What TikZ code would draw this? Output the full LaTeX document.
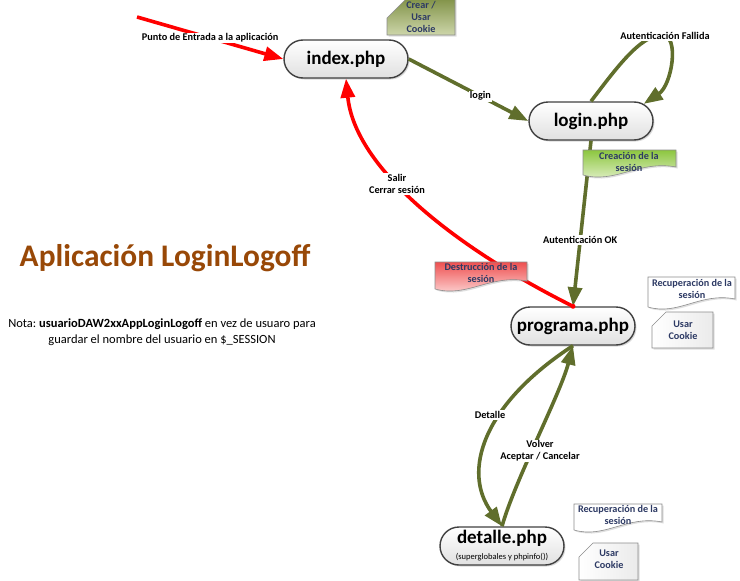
\documentclass[tikz,border=0pt]{standalone}
\usepackage{fontspec}
\setmainfont{Carlito}
\usetikzlibrary{arrows.meta,shapes.misc,shadows}
\definecolor{olivel}{RGB}{96,110,44}
\definecolor{notecol}{RGB}{45,58,100}
\definecolor{titlecol}{RGB}{152,72,7}
\definecolor{crtop}{RGB}{120,138,60}
\definecolor{crbot}{RGB}{205,214,170}
\definecolor{cstop}{RGB}{140,198,63}
\definecolor{csbot}{RGB}{235,245,215}
\definecolor{dstop}{RGB}{238,80,80}
\definecolor{dsbot}{RGB}{255,228,228}
\newcommand\mkdoc[5]{\path[#5] (#1,#2) -- (#3,#2) -- (#3,#4-11) .. controls ({#3-0.4*(#3-#1)},#4-18) and ({#1+0.35*(#3-#1)},#4+6) .. (#1,#4-3) -- cycle;}
\newcommand\mkcard[6]{\path[#6] (#1,#2+#5) -- (#1+#5,#2) -- (#3,#2) -- (#3,#4) -- (#1,#4) -- cycle;}
\frenchspacing
\begin{document}
\begin{tikzpicture}[x=1pt,y=-1pt,
  php/.style={rounded rectangle, draw=black!75, line width=1.4pt, top color=white, bottom color=black!12,
    minimum width=128pt, minimum height=38pt, inner sep=2pt, font=\bfseries\fontsize{19}{20}\selectfont,
    drop shadow={opacity=0.3, shadow xshift=1.5pt, shadow yshift=-1.5pt}},
  oarrow/.style={draw=olivel, line width=3.6pt, -{Triangle[length=19pt,width=14pt]}},
  rarrow/.style={draw=red, line width=3.6pt, -{Triangle[length=19pt,width=14pt]}},
  lbl/.style={fill=white, inner sep=1pt, font=\bfseries\fontsize{10.3}{12}\selectfont, align=center},
  nt/.style={font=\bfseries\fontsize{10.2}{12}\selectfont, text=notecol, align=center, inner sep=0pt},
  boxsh/.style={draw=black!45, line width=0.6pt, drop shadow={opacity=0.25, shadow xshift=1.5pt, shadow yshift=-1.5pt}}
]
\useasboundingbox (0,0) rectangle (740,581);
\clip (0,0) rectangle (740,581);

% nodes
\node[php] (index) at (346,59) {index.php};
\node[php] (login) at (591,121) {login.php};
\node[php] (programa) at (573,326) {programa.php};
\node[php, align=center] (detalle) at (502,546) {detalle.php\\[-4pt]{\mdseries\fontsize{8.5}{9}\selectfont (superglobales y phpinfo())}};

% title and note
\node[font=\bfseries\fontsize{31.4}{36}\selectfont, text=titlecol] (title) at (165,258) {Aplicación LoginLogoff};
\node[font=\fontsize{12.5}{16}\selectfont, align=center] (nota) at (162,332) {Nota: \textbf{usuarioDAW2xxAppLoginLogoff} en vez de usuaro para\\guardar el nombre del usuario en \$\_SESSION};

% connectors
\coordinate (entry) at (137,17);
\draw[rarrow] (entry) -- node[lbl]{Punto de Entrada a la aplicación} (index.west);
\draw[oarrow] (index.east) -- node[lbl,pos=0.6]{login} (login.west);
\draw[oarrow] (login.north) .. controls (615,70) and (640,35) .. (662,35) .. controls (680,35) and (672,85) .. (login.18);
\node[lbl] (fallida) at (665,36) {Autenticación Fallida};
\draw[oarrow] (login.south) -- node[lbl,pos=0.6]{Autenticación OK} (programa.north);
\draw[rarrow] (programa.north) .. controls (460,250) and (355,170) .. (index.south);
\node[lbl] (salir) at (397,184) {Salir\\Cerrar sesión};
\fill[red] (programa.north) circle (2.5);
\draw[oarrow] (programa.south) .. controls (482,405) and (462,472) .. (detalle.north);
\node[lbl] (detlbl) at (490,415) {Detalle};
\draw[oarrow] (detalle.north) .. controls (515,480) and (560,395) .. (programa.south);
\node[lbl] (volver) at (540,451) {Volver\\Aceptar / Cancelar};

% note boxes
\mkcard{387}{-6}{455}{35}{24}{boxsh, top color=crtop, bottom color=crbot}
\node[nt] (crear) at (421,17) {Crear /\\Usar\\Cookie};

\mkdoc{583}{150}{676}{178}{boxsh, top color=cstop, bottom color=csbot}
\node[nt] (creacion) at (629,162) {Creación de la\\sesión};

\mkdoc{435}{262}{527}{292}{boxsh, top color=dstop, bottom color=dsbot}
\node[nt] (destruccion) at (481,273) {Destrucción de la\\sesión};

\mkdoc{648}{277}{735}{310}{boxsh, fill=white}
\node[nt] (recup1) at (692,289) {Recuperación de la\\sesión};
\mkcard{652}{312}{713}{348}{14}{boxsh, left color=white, right color=black!8}
\node[nt] (cookie1) at (683,330) {Usar\\Cookie};

\mkdoc{574}{504}{662}{533}{boxsh, fill=white}
\node[nt] (recup2) at (618,515) {Recuperación de la\\sesión};
\mkcard{579}{543}{638}{580}{14}{boxsh, left color=white, right color=black!8}
\node[nt] (cookie2) at (609,559) {Usar\\Cookie};
\end{tikzpicture}
\end{document}
